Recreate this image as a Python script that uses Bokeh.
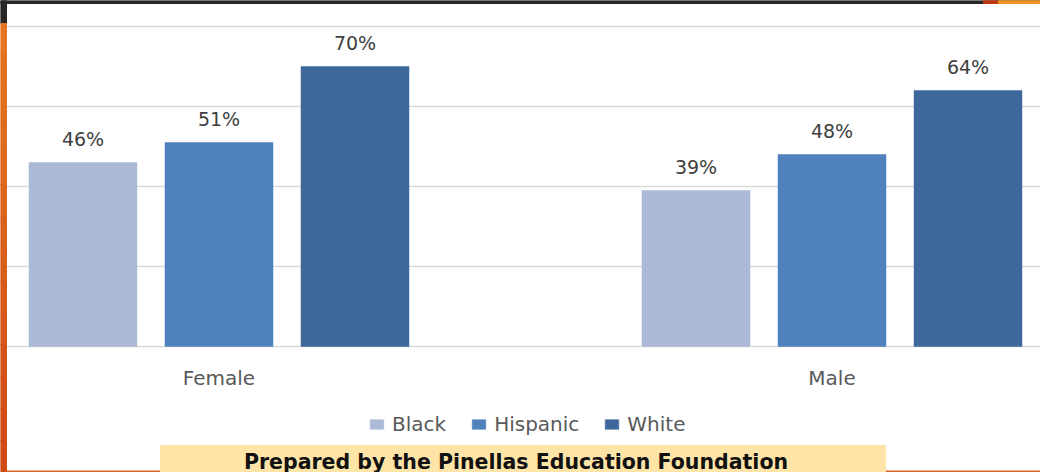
from bokeh.plotting import figure
from bokeh.models import Range1d, Grid, FixedTicker, Legend, LegendItem, ColumnDataSource
from bokeh.transform import dodge
from bokeh.core.properties import value
from bokeh.embed import file_html
from bokeh.resources import INLINE

# ---- data ----
genders = ["Female", "Male"]
series = ["Black", "Hispanic", "White"]
black = [46, 39]
hispanic = [51, 48]
white = [70, 64]
colors = ["#abb9d6", "#4f81bd", "#3e6899"]
grid_ticks = [0, 20, 40, 60, 80]
banner_text = "Prepared by the Pinellas Education Foundation"

# ---- layout constants (pixels) ----
W, H = 1040, 472
GROUP_PX = 613.0     # distance between group centres
X0_PX = 218.5        # centre of first group
BASE_PX = 346.0      # baseline (0 %)
PCT_PX = 4.0         # pixels per percent
BAR_W = 108.0 / GROUP_PX
STEP = 136.0 / GROUP_PX
FONT = "DejaVu Sans"


def xd(px):
    return (px - X0_PX) / GROUP_PX


def yd(py):
    return (BASE_PX - py) / PCT_PX


p = figure(width=W, height=H,
           x_range=Range1d(xd(0), xd(W)), y_range=Range1d(yd(H), yd(0)),
           output_backend="svg", toolbar_location=None,
           x_axis_location=None, y_axis_location=None,
           min_border=0, outline_line_color=None,
           background_fill_color="white", border_fill_color="white")
for g in p.xgrid:
    g.visible = False
for g in p.ygrid:
    g.visible = False

p.add_layout(Grid(dimension=1, ticker=FixedTicker(ticks=grid_ticks),
                  grid_line_color="#d9d9d9", grid_line_width=1.5))

src = ColumnDataSource(dict(
    x=list(range(len(genders))), gender=genders,
    Black=black, Hispanic=hispanic, White=white,
    Black_l=[f"{v}%" for v in black],
    Hispanic_l=[f"{v}%" for v in hispanic],
    White_l=[f"{v}%" for v in white],
))

items = []
for i, (s, c) in enumerate(zip(series, colors)):
    off = (i - 1) * STEP
    r = p.vbar(x=dodge("x", off, range=p.x_range), top=s, bottom=0, width=BAR_W,
               source=src, fill_color=c, line_color=c, line_width=0.5)
    items.append(LegendItem(label=s, renderers=[r]))
    p.text(x=dodge("x", off, range=p.x_range), y=s, text=s + "_l", source=src,
           y_offset=-24, text_align="center", text_baseline="middle",
           text_font=value(FONT), text_font_size="19px", text_color="#404040")

# category labels
p.text(x="x", y=yd(377), text="gender", source=src,
       text_align="center", text_baseline="middle",
       text_font=value(FONT), text_font_size="20px", text_color="#595959")

legend = Legend(items=items, orientation="horizontal", location=(368, 36),
                glyph_width=17, glyph_height=12, label_standoff=7, spacing=24,
                padding=0, margin=0, border_line_color=None,
                background_fill_alpha=0,
                label_text_font=FONT, label_text_font_size="20px",
                label_text_color="#595959")
p.add_layout(legend)

# ---- slide decorations ----
p.quad(left=xd(0), right=xd(W), top=yd(0), bottom=yd(3), color="#262626")
p.quad(left=xd(0), right=xd(6), top=yd(0), bottom=yd(23), color="#262626")
p.quad(left=xd(983), right=xd(998), top=yd(0), bottom=yd(3), color="#c2360f")
p.quad(left=xd(998), right=xd(W), top=yd(0), bottom=yd(3), color="#f0921c")
n = 14
c0 = (0xe4, 0x76, 0x22)
c1 = (0xd0, 0x4a, 0x16)
seg = (H - 23) / n
for k in range(n):
    t = k / (n - 1)
    col = "#%02x%02x%02x" % tuple(int(a + (b - a) * t) for a, b in zip(c0, c1))
    p.quad(left=xd(0), right=xd(6), top=yd(23 + k * seg), bottom=yd(23 + (k + 1) * seg + 0.5),
           color=col)
p.quad(left=xd(6), right=xd(W), top=yd(470.5), bottom=yd(H), color="#d8632a")
p.quad(left=xd(160), right=xd(885), top=yd(445), bottom=yd(H), color="#ffe4a8")
p.text(x=[xd(515.5)], y=[yd(461)], text=[banner_text], text_align="center",
       text_baseline="alphabetic", text_font=value(FONT), text_font_style="bold",
       text_font_size="20.5px", text_color="#111111")

open("out.html", "w").write(file_html(p, INLINE))
